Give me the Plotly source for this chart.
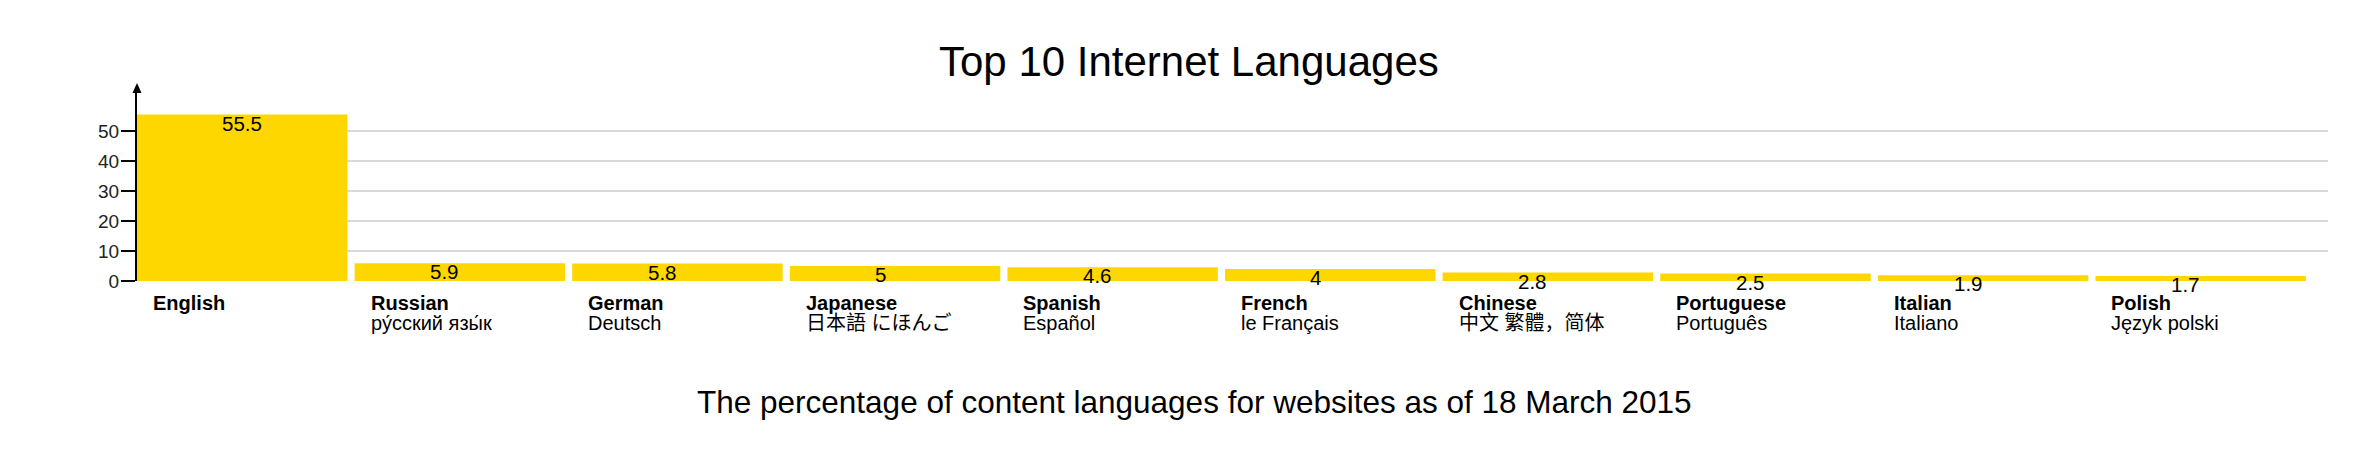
import plotly.graph_objects as go

# ---- data ----
languages = ["English", "Russian", "German", "Japanese", "Spanish",
             "French", "Chinese", "Portuguese", "Italian", "Polish"]
native_names = ["", "ру́сский язы́к", "Deutsch", "日本語 にほんご", "Español",
                "le Français", "中文 繁體，简体", "Português", "Italiano", "Język polski"]
percentages = [55.5, 5.9, 5.8, 5.0, 4.6, 4.0, 2.8, 2.5, 1.9, 1.7]
y_tick_values = [0, 10, 20, 30, 40, 50]
title_text = "Top 10 Internet Languages"
subtitle_text = "The percentage of content languages for websites as of 18 March 2015"

# ---- style / layout constants ----
W, H = 2359, 449
ML, MR, MT, MB = 137, 31, 93, 168
PLOT_W = W - ML - MR
PLOT_H = H - MT - MB
BARGAP = 0.033
HALF = (1 - BARGAP) / 2
X_RIGHT = 9.585
Y_TOP = PLOT_H / 3.0
FONT = "Arial, 'Liberation Sans', 'Noto Sans CJK SC', sans-serif"
BAR_COLOR = "#FFD700"


def paper_y(px_from_top):
    return (H - MB - px_from_top) / PLOT_H


def paper_x(px_from_left):
    return (px_from_left - ML) / PLOT_W


fig = go.Figure()
fig.add_trace(go.Bar(
    x=languages, y=percentages,
    marker=dict(color=BAR_COLOR, line=dict(width=0)),
    hoverinfo="x+y",
))

annotations = []
for i, (lang, nat, v) in enumerate(zip(languages, native_names, percentages)):
    annotations.append(dict(
        x=i, y=v, xref="x", yref="y", text=f"{v:g}", showarrow=False,
        xanchor="center", yanchor="top", yshift=4, xshift=0 if i == 0 else -15,
        borderpad=0,
        font=dict(size=20.5, color="black", family=FONT)))
    annotations.append(dict(
        x=i - HALF, y=0, xref="x", yref="y", text=f"<b>{lang}</b>", showarrow=False,
        xanchor="left", yanchor="top", xshift=15, yshift=-10, borderpad=0,
        font=dict(size=20, color="black", family=FONT)))
    if nat:
        annotations.append(dict(
            x=i - HALF, y=0, xref="x", yref="y", text=nat, showarrow=False,
            xanchor="left", yanchor="top", xshift=15, yshift=-30, borderpad=0,
            font=dict(size=20, color="black", family=FONT)))

annotations.append(dict(
    x=paper_x(1188.5), y=paper_y(36), xref="paper", yref="paper",
    text=title_text, showarrow=False, xanchor="center", yanchor="top",
    font=dict(size=42, color="black", family=FONT)))
annotations.append(dict(
    x=paper_x(1194), y=paper_y(382), xref="paper", yref="paper",
    text=subtitle_text, showarrow=False, xanchor="center", yanchor="top",
    font=dict(size=31.5, color="black", family=FONT)))

fig.update_layout(
    width=W, height=H,
    margin=dict(l=ML, r=MR, t=MT, b=MB, pad=0),
    paper_bgcolor="white", plot_bgcolor="white",
    bargap=BARGAP, showlegend=False,
    font=dict(family=FONT, color="black"),
    xaxis=dict(range=[-HALF, X_RIGHT], showticklabels=False, showgrid=False,
               zeroline=False, showline=False, ticks=""),
    yaxis=dict(range=[0, Y_TOP], tickvals=y_tick_values, showgrid=True,
               gridcolor="#d9d9d9", gridwidth=1.5, zeroline=False,
               showline=True, linecolor="black", linewidth=2,
               ticks="outside", ticklen=14, tickwidth=2, tickcolor="black",
               ticklabelstandoff=-2,
               tickfont=dict(size=19, color="#222", family=FONT)),
    annotations=annotations,
    shapes=[dict(type="path", xref="paper", yref="paper",
                 xsizemode="pixel", ysizemode="pixel", xanchor=0, yanchor=1,
                 path="M -4.5,0 L 0,10 L 4.5,0 Z",
                 fillcolor="black", line=dict(width=0), layer="above")],
)

fig.write_html("out.html", config={"displayModeBar": False},
               post_script="document.body.style.margin='0';document.body.style.overflow='hidden';")
